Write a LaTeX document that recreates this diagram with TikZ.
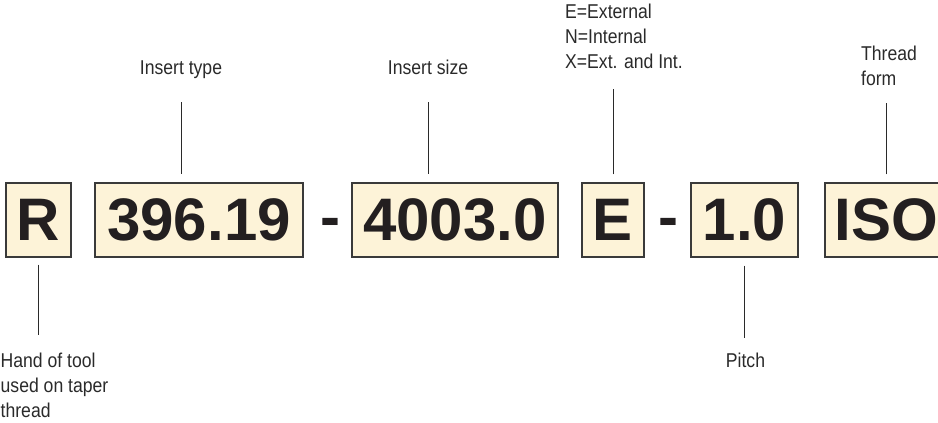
\documentclass[tikz,border=0pt]{standalone}
\usepackage{fontspec}
\setmainfont{Liberation Sans}
\newfontfamily\lblfont[FakeStretch=0.88]{Liberation Sans}
\definecolor{cream}{HTML}{FDF3D8}
\definecolor{edge}{HTML}{3A3A3A}
\definecolor{ink}{HTML}{231F20}
\definecolor{lbl}{HTML}{2A2A2A}
\begin{document}
\begin{tikzpicture}[x=1pt,y=-1pt,
  codebox/.style={draw=edge, line width=1.3pt, fill=cream, minimum height=74pt,
    inner sep=0pt, text=ink, font=\fontsize{60}{60}\selectfont\bfseries},
  dashmark/.style={inner sep=0pt, anchor=base, text=ink, font=\fontsize{60}{60}\selectfont\bfseries},
  label/.style={inner sep=0pt, text=lbl, font=\lblfont\fontsize{20}{25}\selectfont},
  conn/.style={draw=lbl, line width=1pt}]
\useasboundingbox (0,0) rectangle (938,423);
% boxes
\node[codebox, minimum width=65pt]  (bR)   at (38.5,220) {R};
\node[codebox, minimum width=208pt] (b2)   at (199,220)  {396.19};
\node[dashmark] (d1) at (330,237) {-};
\node[codebox, minimum width=206pt] (b3)   at (455,220)  {4003.0};
\node[codebox, minimum width=62pt]  (bE)   at (613,220)  {E};
\node[dashmark] (d2) at (668,237) {-};
\node[codebox, minimum width=107pt] (b5)   at (744.5,220) {1.0};
\node[codebox, minimum width=122pt] (bISO) at (886,220)  {ISO};
% labels
\node[label, anchor=base] (lit) at (181,74) {Insert type};
\node[label, anchor=base] (lis) at (428,74) {Insert size};
\node[label, anchor=north west, align=left] (lE) at (565,3.5) {E=External\\N=Internal\\X=Ext. and Int.};
\node[label, anchor=north west, align=left] (lT) at (861,45.5) {Thread\\form};
\node[label, anchor=north west, align=left] (lH) at (0.5,352.5) {Hand of tool\\used on taper\\thread};
\node[label, anchor=base] (lP) at (745.5,367) {Pitch};
% connectors
\draw[conn, shorten <=24pt, shorten >=8pt] (lit.south) -- (lit.south |- b2.north);
\draw[conn, shorten <=28pt, shorten >=8pt] (lis.south) -- (lis.south |- b3.north);
\draw[conn, shorten <=8pt, shorten >=20pt] (bE.north) -- (bE.north |- lE.south);
\draw[conn, shorten <=8pt, shorten >=17pt] (bISO.north) -- (bISO.north |- lT.south);
\draw[conn, shorten <=7pt, shorten >=17.5pt] (bR.south) -- (bR.south |- lH.north);
\draw[conn, shorten <=8pt, shorten >=14.7pt] (b5.south) -- (b5.south |- lP.north);
\end{tikzpicture}
\end{document}
